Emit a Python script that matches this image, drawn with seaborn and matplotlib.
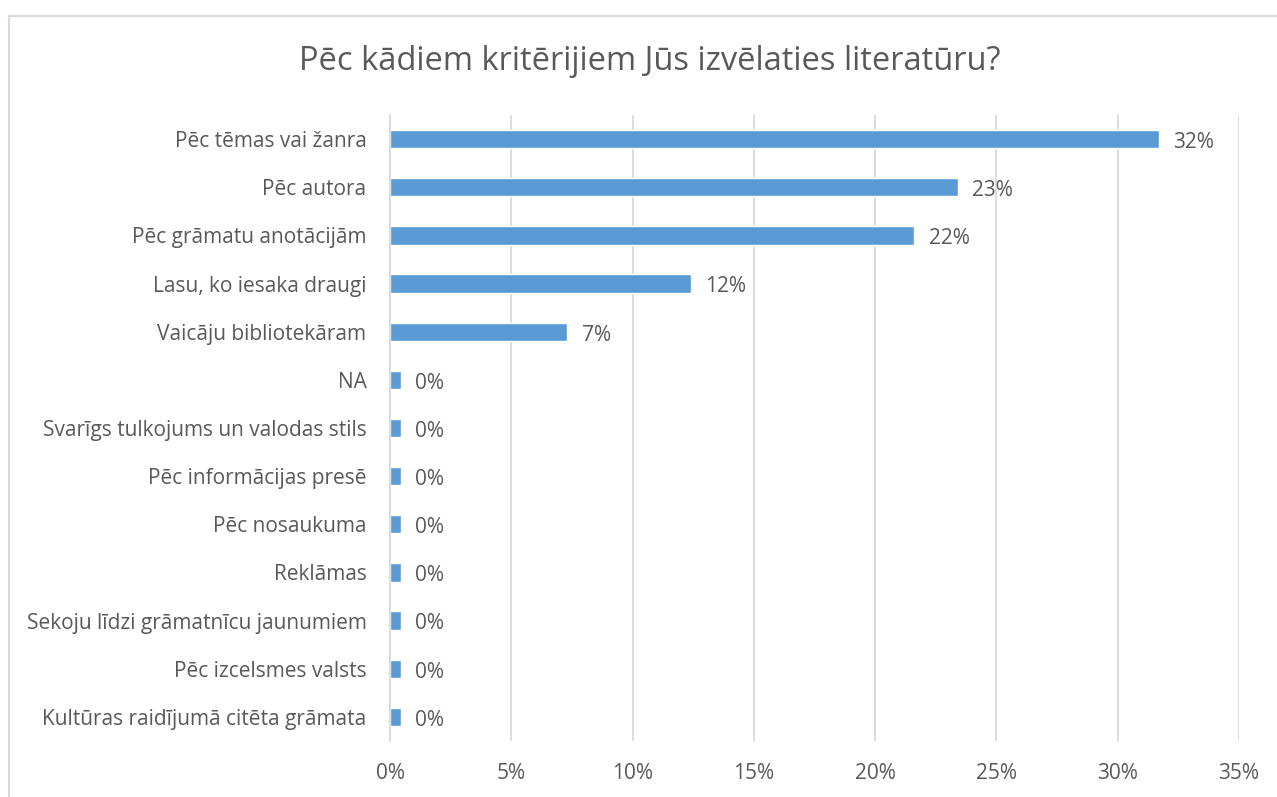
import matplotlib
matplotlib.use("Agg")
import matplotlib.pyplot as plt
import seaborn as sns
import pandas as pd

categories = [
    "Pēc tēmas vai žanra",
    "Pēc autora",
    "Pēc grāmatu anotācijām",
    "Lasu, ko iesaka draugi",
    "Vaicāju bibliotekāram",
    "NA",
    "Svarīgs tulkojums un valodas stils",
    "Pēc informācijas presē",
    "Pēc nosaukuma",
    "Reklāmas",
    "Sekoju līdzi grāmatnīcu jaunumiem",
    "Pēc izcelsmes valsts",
    "Kultūras raidījumā citēta grāmata",
]
shares = [31.7, 23.4, 21.6, 12.4, 7.3, 0.45, 0.45, 0.45, 0.45, 0.45, 0.45, 0.45, 0.45]
x_ticks = [0, 5, 10, 15, 20, 25, 30, 35]

df = pd.DataFrame({"kategorija": categories, "proc": shares})

sns.set_style("white")
plt.rcParams["font.family"] = ["Open Sans", "DejaVu Sans"]
grey = "#595959"

fig = plt.figure(figsize=(12.77, 7.97), dpi=100)
ax = fig.add_axes([390 / 1277, 1 - 741 / 797, (1239 - 390) / 1277, (741 - 115) / 797])

sns.barplot(data=df, x="proc", y="kategorija", orient="h", color="#5B9BD5",
            width=0.38, saturation=1, ax=ax)

ax.set_xlim(0, 35)
ax.set_ylim(len(categories) - 0.5, -0.5)
ax.set_xticks(x_ticks)
ax.set_xticklabels([f"{t}%" for t in x_ticks], fontsize=15, color=grey)
ax.tick_params(axis="x", length=0, pad=16)
ax.tick_params(axis="y", length=0, pad=17, labelsize=15, labelcolor=grey)
ax.xaxis.grid(True, color="#D9D9D9", linewidth=1.3)
ax.set_axisbelow(True)
ax.set_xlabel("")
ax.set_ylabel("")
for s in ["top", "right", "bottom"]:
    ax.spines[s].set_visible(False)
ax.spines["left"].set_color("#D9D9D9")
ax.spines["left"].set_linewidth(1.3)

for i, v in enumerate(shares):
    ax.text(v + 0.6, i + 0.07, f"{round(v):.0f}%", va="center", ha="left", fontsize=15, color=grey)

fig.text(650 / 1277, 1 - 62 / 797, "Pēc kādiem kritērijiem Jūs izvēlaties literatūru?",
         ha="center", va="center", fontsize=23.5, color=grey)

# chart frame (top and left edges visible)
fig.add_artist(plt.Line2D([9 / 1277, 9 / 1277], [0, 1 - 16 / 797], transform=fig.transFigure,
                          color="#D9D9D9", linewidth=1.5))
fig.add_artist(plt.Line2D([9 / 1277, 1], [1 - 16 / 797, 1 - 16 / 797], transform=fig.transFigure,
                          color="#D9D9D9", linewidth=1.5))

fig.savefig("out.png", dpi=100)
